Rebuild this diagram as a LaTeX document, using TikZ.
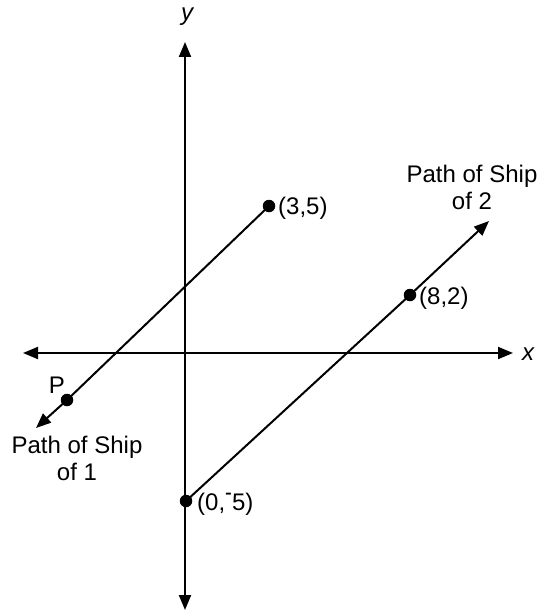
\documentclass[tikz,border=0pt]{standalone}
\usepackage{fontspec}
\setmainfont{Liberation Sans}
\usetikzlibrary{arrows.meta}
\begin{document}
\begin{tikzpicture}[x=1pt,y=-1pt,
  every node/.style={font=\fontsize{24}{27}\selectfont},
  tip/.style={Triangle[length=15pt,width=12pt]},
  axis/.style={line width=2pt,{Triangle[length=15pt,width=12pt]}-{Triangle[length=15pt,width=12pt]}},
  shipline/.style={line width=2pt,-{Triangle[length=15pt,width=12pt]}},
  dot/.style={circle,fill=black,inner sep=0pt,minimum size=12.5pt},
  lbl/.style={inner sep=0pt,anchor=west},
  ttl/.style={inner sep=0pt,align=center,anchor=north}]
\useasboundingbox (0,0) rectangle (544,615);
% axes
\coordinate (xl) at (23,353);
\coordinate (xr) at (513,353);
\coordinate (yt) at (185,42);
\coordinate (yb) at (185,610);
\draw[axis] (xl) -- (xr);
\draw[axis] (yb) -- (yt);
\node[inner sep=0pt] (xlab) at (528,354) {\itshape x};
\node[inner sep=0pt] (ylab) at (187,17) {\itshape y};
% points
\node[dot] (d35) at (269,206) {};
\node[dot] (d82) at (410,295) {};
\node[dot] (d05) at (186,501) {};
\node[dot] (dP) at (67,400) {};
\coordinate (s1tip) at (36,428);
\coordinate (s2tip) at (489,221);
% ship paths
\draw[shipline] (d35.center) -- (dP.center) -- (s1tip);
\draw[shipline] (d05.center) -- (d82.center) -- (s2tip);
% labels
\node[lbl] (l35) at (278,208) {(3,5)};
\node[lbl] (l82) at (419,298) {(8,2)};
\node[lbl] (l05) at (197,504) {(0,\raisebox{0.4em}{\scalebox{0.85}[1]{-}}5)};
\node[inner sep=0pt] (lP) at (57,385) {P};
\node[ttl] (t1) at (77,436) {Path of Ship\\of 1};
\node[ttl] (t2) at (472,165) {Path of Ship\\of 2};
\end{tikzpicture}
\end{document}
